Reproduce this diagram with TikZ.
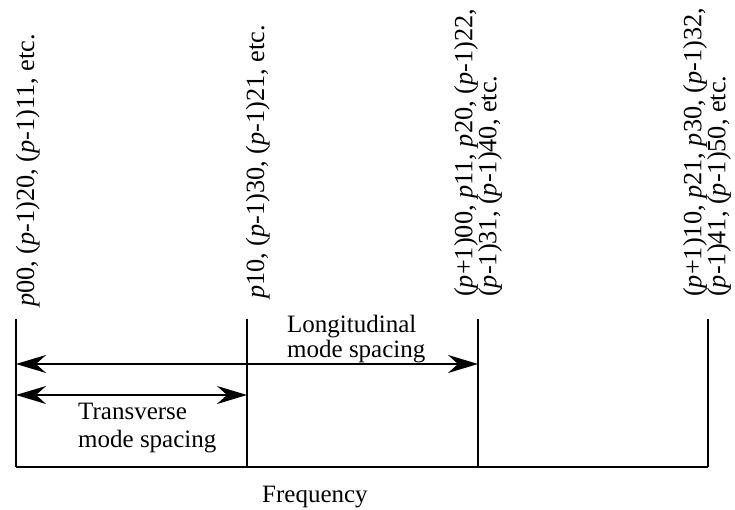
\documentclass[tikz,border=0pt]{standalone}
\usepackage{fontspec}
\setmainfont{Liberation Serif}
\usetikzlibrary{arrows.meta}
\newcommand{\pp}{\textit{p}}
\newcommand{\tightlines}{\lineskiplimit=-30pt\relax\lineskip=0pt\relax}
\begin{document}
\begin{tikzpicture}[x=1pt,y=1pt,
  axisline/.style={line width=2.4pt},
  spanarrow/.style={line width=2.4pt,{Stealth[length=30pt,width=18pt,inset=10pt]}-{Stealth[length=30pt,width=18pt,inset=10pt]}},
  modelabel/.style={rotate=90,inner sep=0pt,font=\fontsize{26.3}{24}\selectfont\tightlines},
  spacelabel/.style={inner sep=0pt,align=left,anchor=north west},
  axislabel/.style={inner sep=0pt,font=\fontsize{25}{26}\selectfont}
]
\useasboundingbox (0,0) rectangle (735,510);
% named coordinates
\coordinate (b0) at (16,43);
\coordinate (b1) at (247,43);
\coordinate (b2) at (478,43);
\coordinate (b3) at (708,43);
\coordinate (t0) at (16,191);
\coordinate (t1) at (247,191);
\coordinate (t2) at (478,191);
\coordinate (t3) at (708,191);
\coordinate (la) at (16,146);
\coordinate (lb) at (478,146);
\coordinate (sa) at (16,115);
\coordinate (sb) at (247,115);
% frequency axis and mode lines
\draw[axisline] (b0) -- (b3);
\draw[axisline] (b0) -- (t0);
\draw[axisline] (b1) -- (t1);
\draw[axisline] (b2) -- (t2);
\draw[axisline] (b3) -- (t3);
% spacing arrows
\draw[spanarrow] (la) -- (lb);
\draw[spanarrow] (sa) -- (sb);
% mode labels
\node[modelabel,anchor=base west] (m0) at (34,203)
  {\pp00, (\pp-1)20, (\pp-1)11, etc.};
\node[modelabel,anchor=base west] (m1) at (264,211)
  {\pp10, (\pp-1)30, (\pp-1)21, etc.};
\node[modelabel,anchor=west,align=left] (m2) at (478,213)
  {(\pp+1)00, \pp11, \pp20, (\pp-1)22,\\(\pp-1)31, (\pp-1)40, etc.};
\node[modelabel,anchor=west,align=left] (m3) at (707,213)
  {(\pp+1)10, \pp21, \pp30, (\pp-1)32,\\(\pp-1)41, (\pp-1)50, etc.};
% spacing labels
\node[spacelabel,font=\fontsize{25}{25}\selectfont] (lt) at (287,195)
  {Longitudinal\\mode spacing};
\node[spacelabel,font=\fontsize{25}{28}\selectfont] (tt) at (78,107.5)
  {Transverse\\mode spacing};
% axis label
\node[axislabel,anchor=base west] (fq) at (262,7) {Frequency};
\end{tikzpicture}
\end{document}
